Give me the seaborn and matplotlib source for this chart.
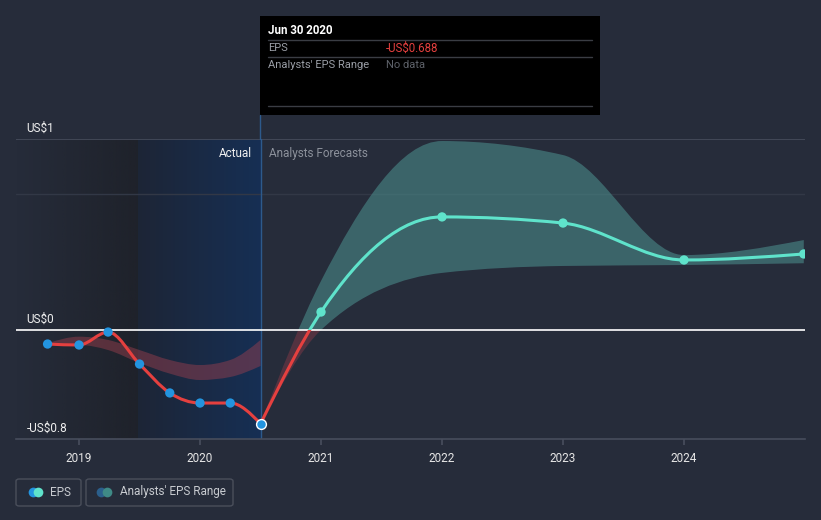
import numpy as np
import matplotlib
matplotlib.use("Agg")
import matplotlib.pyplot as plt
import seaborn as sns
import pandas as pd
from matplotlib.path import Path
from matplotlib.patches import PathPatch, Rectangle, FancyBboxPatch
from matplotlib.lines import Line2D

# Данные EPS (фактические)
actual_x = [2018.74, 2019.0, 2019.24, 2019.5, 2019.75, 2020.0, 2020.25, 2020.5]
actual_eps = [-0.103, -0.110, -0.015, -0.250, -0.462, -0.536, -0.536, -0.688]
past_range_hi = [-0.098, -0.049, -0.073, -0.147, -0.22, -0.257, -0.22, -0.073]
past_range_lo = [-0.110, -0.110, -0.147, -0.242, -0.32, -0.367, -0.345, -0.264]

# Прогнозы аналитиков
fc_x = [2020.5, 2021.0, 2022.0, 2023.0, 2024.0, 2024.99]
fc_eps = [-0.688, 0.132, 0.830, 0.785, 0.514, 0.558]
fc_hi = [-0.688, 0.36, 1.387, 1.284, 0.550, 0.660]
fc_lo = [-0.688, 0.00, 0.419, 0.470, 0.477, 0.490]

years = [2019, 2020, 2021, 2022, 2023, 2024]

BG = "#262c3a"
RED = "#e5403f"
TEAL = "#5fe3cb"
BLUE = "#2394df"
GRID = "#474d5c"

sns.set_theme(style="dark")
plt.rcParams["font.family"] = ["Roboto", "DejaVu Sans"]

W, H = 821, 520
fig = plt.figure(figsize=(W / 100, H / 100), dpi=100, facecolor=BG)
ax = fig.add_axes([16 / W, 1 - 439 / H, (805 - 16) / W, (439 - 139) / H])
ax.set_facecolor(BG)
x0, x1 = 2018.479, 2025.0
y0, y1 = -0.8, 1.4018


def bezier_path(xs, ys):
    # монотонная кубическая кривая (как d3.curveMonotoneX), только для отрисовки
    x = np.asarray(xs, float)
    y = np.asarray(ys, float)
    h = np.diff(x)
    s = np.diff(y) / h
    n = len(x)
    m = np.zeros(n)
    for i in range(1, n - 1):
        if s[i - 1] * s[i] > 0:
            p = (s[i - 1] * h[i] + s[i] * h[i - 1]) / (h[i - 1] + h[i])
            m[i] = np.sign(s[i - 1]) * min(abs(s[i - 1]), abs(s[i]), 0.5 * abs(p)) * 2
    m[0] = (3 * s[0] - m[1]) / 2
    m[-1] = (3 * s[-1] - m[-2]) / 2
    verts = [(x[0], y[0])]
    codes = [Path.MOVETO]
    for i in range(n - 1):
        d = h[i] / 3
        verts += [(x[i] + d, y[i] + d * m[i]), (x[i + 1] - d, y[i + 1] - d * m[i + 1]), (x[i + 1], y[i + 1])]
        codes += [Path.CURVE4] * 3
    return np.array(verts), codes


def band_path(xs, hi, lo):
    vh, ch = bezier_path(xs, hi)
    vl, cl = bezier_path(xs, lo)
    vl = vl[::-1]
    verts = list(vh) + [vl[0]] + list(vl[1:]) + [vh[0]]
    codes = list(ch) + [Path.LINETO] + [Path.CURVE4] * (len(vl) - 1) + [Path.CLOSEPOLY]
    return Path(np.array(verts), codes)


above = Rectangle((x0, 0), x1 - x0, y1, transform=ax.transData)
below = Rectangle((x0, y0), x1 - x0, -y0, transform=ax.transData)

# Фоновые зоны
g = np.linspace(0, 1, 256).reshape(1, -1)
dark = np.zeros((1, 256, 4))
dark[..., 0], dark[..., 1], dark[..., 2] = 30 / 255, 33 / 255, 41 / 255
dark[..., 3] = g * 0.9
ax.imshow(dark, extent=[x0, 2019.488, y0, y1], aspect="auto", zorder=0)
blue = np.zeros((1, 256, 4))
blue[..., 0] = (29 - 7 * g) / 255
blue[..., 1] = (37 + 10 * g) / 255
blue[..., 2] = (54 + 30 * g) / 255
blue[..., 3] = 1
ax.imshow(blue, extent=[2019.488, 2020.5, y0, y1], aspect="auto", zorder=0)
ax.set_xlim(x0, x1)
ax.set_ylim(y0, y1)

# Сетка
ax.axhline(1.0, color="#323846", lw=1, zorder=1)
ax.axhline(y1, color=GRID, lw=1.2, zorder=1)
ax.axhline(0, color="white", lw=1.2, zorder=4)
ax.axvline(2020.5, color="#2d5a8c", lw=1, zorder=2)

# Диапазоны
past_band = PathPatch(band_path(actual_x, past_range_hi, past_range_lo),
                      facecolor="#a0404f", alpha=0.45, lw=0, zorder=2)
ax.add_patch(past_band)
fb = band_path(fc_x, fc_hi, fc_lo)
fb_up = PathPatch(fb, facecolor="#4a8a8a", alpha=0.6, lw=0, zorder=2)
fb_dn = PathPatch(fb, facecolor="#8a3a48", alpha=0.45, lw=0, zorder=2)
ax.add_patch(fb_up)
ax.add_patch(fb_dn)
fb_up.set_clip_path(above)
fb_dn.set_clip_path(below)

# Линии EPS
va, ca = bezier_path(actual_x, actual_eps)
ax.add_patch(PathPatch(Path(va, ca), fill=False, edgecolor=RED, lw=2.2, zorder=5))
vf, cf = bezier_path(fc_x, fc_eps)
ln_up = PathPatch(Path(vf, cf), fill=False, edgecolor=TEAL, lw=2.2, zorder=5)
ln_dn = PathPatch(Path(vf, cf), fill=False, edgecolor=RED, lw=2.2, zorder=5)
ax.add_patch(ln_up)
ax.add_patch(ln_dn)
ln_up.set_clip_path(above)
ln_dn.set_clip_path(below)

# Точки
df_a = pd.DataFrame({"x": actual_x[:-1], "eps": actual_eps[:-1]})
sns.scatterplot(data=df_a, x="x", y="eps", color=BLUE, s=45, edgecolor="none", zorder=6, ax=ax)
ax.scatter([actual_x[-1]], [actual_eps[-1]], color=BLUE, s=50, edgecolor="white", lw=1, zorder=7)
df_f = pd.DataFrame({"x": fc_x[1:], "eps": fc_eps[1:]})
sns.scatterplot(data=df_f, x="x", y="eps", color=TEAL, s=45, edgecolor="none", zorder=6, ax=ax)
ax.set_xlabel("")
ax.set_ylabel("")
ax.set_xlim(x0, x1)
ax.set_ylim(y0, y1)

# Оси
for s in ["top", "left", "right"]:
    ax.spines[s].set_visible(False)
ax.spines["bottom"].set_color(GRID)
ax.spines["bottom"].set_linewidth(1.2)
ax.set_xticks(years)
ax.set_xticklabels([str(y) for y in years], color="#e6e6e6", fontsize=8.5)
ax.set_yticks([])
ax.tick_params(axis="x", direction="out", length=4, color=GRID, pad=5, bottom=True)
ax.grid(False)

# Подписи оси Y
for lbl, yy in [("US$1", y1), ("US$0", 0.0), ("-US$0.8", y0)]:
    ax.annotate(lbl, (x0, yy), xytext=(7.5, 3), textcoords="offset points", fontsize=8.5,
                color="#f0f0f0", va="bottom", ha="left", zorder=8)
ax.annotate("Actual", (2020.5, y1), xytext=(-6, -6), textcoords="offset points", fontsize=8.5,
            color="#f0f0f0", ha="right", va="top")
ax.annotate("Analysts Forecasts", (2020.5, y1), xytext=(6, -6), textcoords="offset points",
            fontsize=8.5, color="#8c919b", ha="left", va="top")


def fx(px):
    return px / W


def fy(py):
    return 1 - py / H


# Всплывающая подсказка
fig.add_artist(Line2D([fx(260), fx(260)], [fy(115), fy(139)], color="#2d5a8c", lw=1))
fig.add_artist(Rectangle((fx(260), fy(115)), fx(600) - fx(260), fy(16) - fy(115),
                         facecolor="black", edgecolor="none", transform=fig.transFigure))
for py in [40, 57, 106]:
    fig.add_artist(Line2D([fx(268), fx(592)], [fy(py), fy(py)], color="#3a3d44", lw=1))
fig.text(fx(268), fy(31), "Jun 30 2020", color="white", fontsize=8.3, fontweight="bold", va="center")
fig.text(fx(268), fy(48), "EPS", color="#9a9ea6", fontsize=8, va="center")
fig.text(fx(386), fy(48), "-US$0.688", color="#e5403f", fontsize=8.3, va="center")
fig.text(fx(268), fy(65), "Analysts' EPS Range", color="#9a9ea6", fontsize=8, va="center")
fig.text(fx(386), fy(65), "No data", color="#5e626a", fontsize=8, va="center")

# Легенда
for (l, r) in [(16, 81), (86, 233)]:
    fig.add_artist(FancyBboxPatch((fx(l), fy(506)), fx(r) - fx(l), fy(479) - fy(506),
                                  boxstyle="round,pad=0,rounding_size=0.004", facecolor="none",
                                  edgecolor="#4a4f5b", lw=1, transform=fig.transFigure))
fig.add_artist(Line2D([fx(33)], [fy(492)], marker="o", ms=7, color=BLUE, mec="none"))
fig.add_artist(Line2D([fx(38)], [fy(492)], marker="o", ms=7, color=TEAL, mec="none"))
fig.text(fx(50), fy(492), "EPS", color="#c8cbd0", fontsize=8.5, va="center")
fig.add_artist(Line2D([fx(101)], [fy(492)], marker="o", ms=7, color="#2b5f8c", mec="none"))
fig.add_artist(Line2D([fx(107)], [fy(492)], marker="o", ms=7, color="#3f8a86", mec="none"))
fig.text(fx(120), fy(492), "Analysts' EPS Range", color="#c8cbd0", fontsize=8.5, va="center")

fig.savefig("out.png", dpi=100, facecolor=BG)
